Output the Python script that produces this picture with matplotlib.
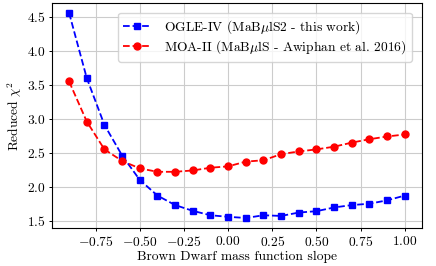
import numpy as np
import matplotlib
matplotlib.use('Agg')
import matplotlib.pyplot as plt

plt.rcParams['font.family'] = 'serif'
plt.rcParams['font.serif'] = ['cmr10', 'DejaVu Serif']
plt.rcParams['mathtext.fontset'] = 'cm'
plt.rcParams['axes.formatter.use_mathtext'] = True
plt.rcParams['axes.unicode_minus'] = True

# slope values
slope = [-0.9, -0.8, -0.7, -0.6, -0.5, -0.4, -0.3, -0.2, -0.1, 0.0,
         0.1, 0.2, 0.3, 0.4, 0.5, 0.6, 0.7, 0.8, 0.9, 1.0]

# reduced chi^2
ogle = [4.56, 3.60, 2.91, 2.46, 2.10, 1.87, 1.73, 1.645, 1.58, 1.557,
        1.54, 1.58, 1.57, 1.62, 1.64, 1.695, 1.73, 1.75, 1.80, 1.87]
moa = [3.55, 2.96, 2.55, 2.38, 2.27, 2.22, 2.22, 2.24, 2.28, 2.30,
       2.37, 2.39, 2.48, 2.52, 2.55, 2.59, 2.65, 2.70, 2.74, 2.77]

fig, ax = plt.subplots(figsize=(4.36, 2.66), dpi=100)
fig.subplots_adjust(left=0.12, right=0.967, bottom=0.142, top=0.99)

ax.plot(slope, ogle, 's--', color='blue', ms=5, lw=1.3,
        label=r'OGLE-IV (MaB$\mu$lS2 - this work)')
ax.plot(slope, moa, 'o--', color='red', ms=5, lw=1.3,
        label=r'MOA-II (MaB$\mu$lS - Awiphan et al. 2016)')

ax.grid(True, color='#cccccc', lw=0.8)
ax.set_axisbelow(True)
ax.set_xlabel('Brown Dwarf mass function slope', fontsize=9.7, labelpad=1.5)
ax.set_ylabel(r'Reduced $\chi^2$', fontsize=9.7, labelpad=2)
ax.tick_params(labelsize=9.7, length=2.5, width=0.7, pad=2.5)
ax.legend(loc='upper right', fontsize=9.7, labelspacing=0.2,
          borderaxespad=0.75, handletextpad=1.0, borderpad=0.4)

plt.savefig('out.png', dpi=100)
